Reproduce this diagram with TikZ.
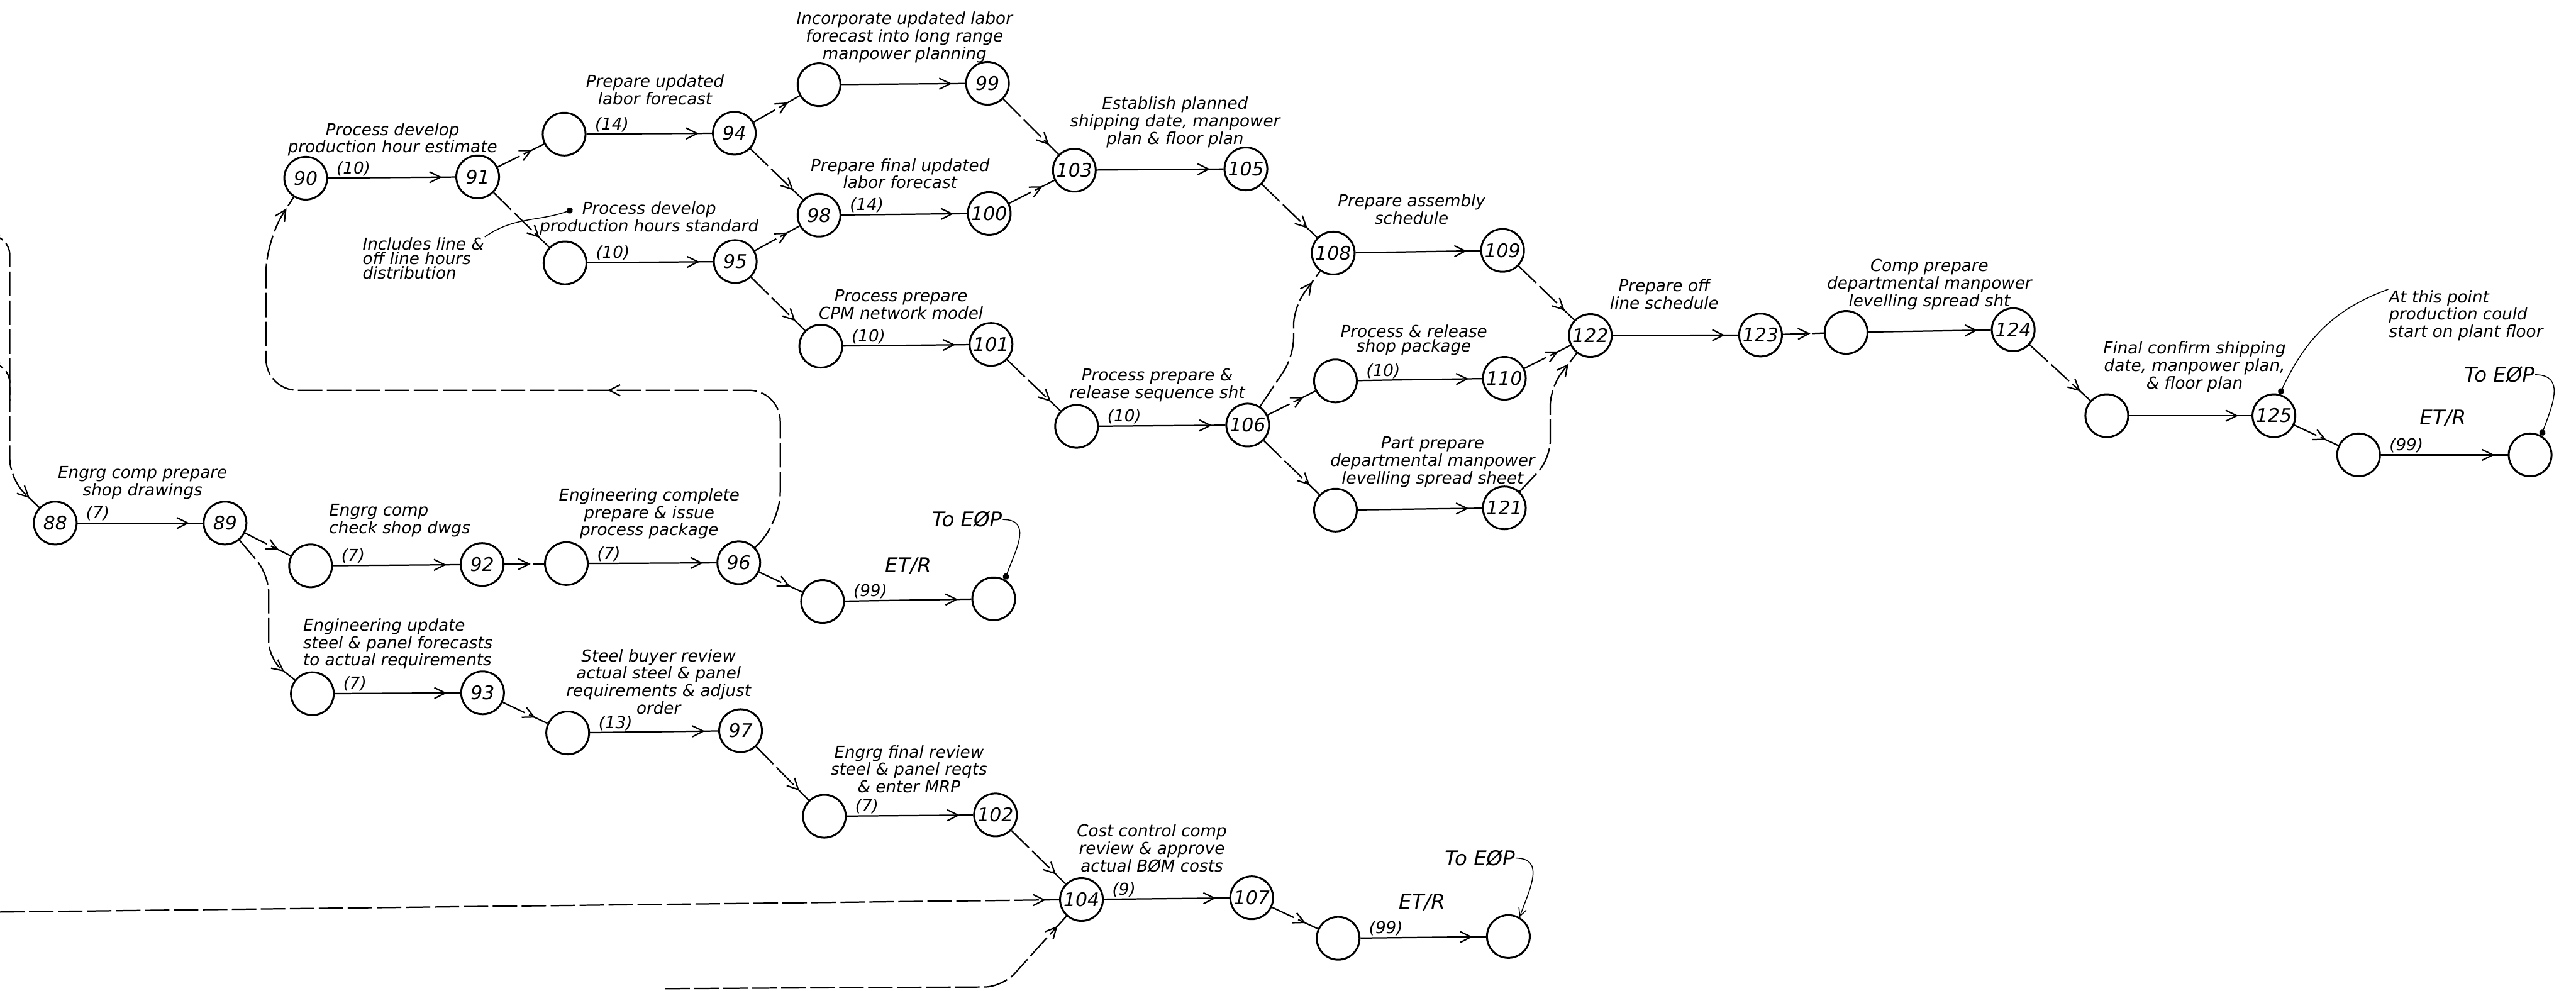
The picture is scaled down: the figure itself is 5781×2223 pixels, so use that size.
\documentclass[tikz,border=0pt]{standalone}
\usepackage{fontspec}
\newfontfamily\hand{DejaVu Sans}
\usetikzlibrary{calc, positioning, arrows.meta, decorations.markings}

\begin{document}
\begin{tikzpicture}[x=0.01cm, y=0.01cm, line width=0.9pt,
  ev/.style={circle, draw, line width=1.2pt, minimum size=0.96cm, inner sep=0pt,
    font=\hand\itshape\fontsize{12}{12}\selectfont},
  lbl/.style={align=center, inner sep=0pt, font=\hand\itshape\fontsize{10.5}{9.2}\selectfont},
  big/.style={inner sep=0pt, font=\hand\itshape\fontsize{13}{13}\selectfont},
  dur/.style={pos=0, anchor=south west, xshift=4pt, inner sep=1pt,
    font=\hand\itshape\fontsize{10.5}{10}\selectfont},
  arr/.style={postaction={decorate, decoration={markings,
    mark=at position #1 with {\arrow{Straight Barb[length=7pt, width=7pt]}}}}},
  arr/.default=-0.3cm,
  act/.style={arr},
  dl/.style={dash pattern=on 0.55cm off 0.1cm},
  dum/.style={dl, arr},
  lead/.style={line width=0.6pt, -{Circle[length=4pt]}}]

  \path[fill=white, use as bounding box] (0,0) rectangle (5781,-2223);

  \node[ev] (n90) at (686,-400) {90};
  \node[ev] (n91) at (1072,-397) {91};
  \node[ev] (a1) at (1266,-301) {};
  \node[ev] (n94) at (1648,-299) {94};
  \node[ev] (b1) at (1838,-190) {};
  \node[ev] (n99) at (2216,-187) {99};
  \node[ev] (c1) at (1268,-590) {};
  \node[ev] (n95) at (1650,-587) {95};
  \node[ev] (n98) at (1838,-483) {98};
  \node[ev] (n100) at (2220,-479) {100};
  \node[ev] (n103) at (2411,-382) {103};
  \node[ev] (n105) at (2796,-379) {105};
  \node[ev] (d1) at (1842,-777) {};
  \node[ev] (n101) at (2224,-773) {101};
  \node[ev] (e1) at (2416,-957) {};
  \node[ev] (n106) at (2800,-954) {106};
  \node[ev] (n108) at (2992,-568) {108};
  \node[ev] (n109) at (3372,-562) {109};
  \node[ev] (f1) at (2997,-855) {};
  \node[ev] (n110) at (3376,-849) {110};
  \node[ev] (g1) at (2997,-1145) {};
  \node[ev] (n121) at (3376,-1140) {121};
  \node[ev] (n122) at (3569,-753) {122};
  \node[ev] (n123) at (3951,-752) {123};
  \node[ev] (h1) at (4143,-746) {};
  \node[ev] (n124) at (4518,-740) {124};
  \node[ev] (i1) at (4728,-933) {};
  \node[ev] (n125) at (5103,-933) {125};
  \node[ev] (j1) at (5293,-1021) {};
  \node[ev] (k1) at (5678,-1021) {};

  \node[ev] (n88) at (124,-1174) {88};
  \node[ev] (n89) at (505,-1174) {89};
  \node[ev] (l1) at (697,-1270) {};
  \node[ev] (n92) at (1082,-1267) {92};
  \node[ev] (m1) at (1271,-1265) {};
  \node[ev] (n96) at (1658,-1263) {96};
  \node[ev] (p1) at (1846,-1350) {};
  \node[ev] (q1) at (2230,-1344) {};
  \node[ev] (n1) at (701,-1557) {};
  \node[ev] (n93) at (1083,-1555) {93};
  \node[ev] (o1) at (1274,-1645) {};
  \node[ev] (n97) at (1662,-1640) {97};
  \node[ev] (r1) at (1850,-1832) {};
  \node[ev] (n102) at (2234,-1829) {102};
  \node[ev] (n104) at (2427,-2019) {104};
  \node[ev] (n107) at (2809,-2015) {107};
  \node[ev] (s1) at (3003,-2106) {};
  \node[ev] (t1) at (3385,-2102) {};

  \node[lbl] (t90) at (881,-313) {Process develop\\production hour estimate};
  \node[lbl, align=left] (t91) at (950,-580) {Includes line \&\\off line hours\\distribution};
  \node[lbl] (ta1) at (1470,-201) {Prepare updated\\labor forecast};
  \node[lbl] (tb1) at (2030,-84) {Incorporate updated labor\\forecast into long range\\manpower planning};
  \node[lbl] (t98) at (2020,-390) {Prepare final updated\\labor forecast};
  \node[lbl] (tc1) at (1457,-490) {Process develop\\production hours standard};
  \node[lbl] (td1) at (2022,-683) {Process prepare\\CPM network model};
  \node[lbl] (t103) at (2637,-274) {Establish planned\\shipping date, manpower\\plan \& floor plan};
  \node[lbl] (te1) at (2597,-865) {Process prepare \&\\release sequence sht};
  \node[lbl] (t108) at (3168,-470) {Prepare assembly\\schedule};
  \node[lbl] (tf1) at (3173,-763) {Process \& release\\shop package};
  \node[lbl] (tg1) at (3215,-1037) {Part prepare\\departmental manpower\\levelling spread sheet};
  \node[lbl] (t122) at (3735,-660) {Prepare off\\line schedule};
  \node[lbl] (th1) at (4330,-639) {Comp prepare\\departmental manpower\\levelling spread sht};
  \node[lbl] (ti1) at (4925,-823) {Final confirm shipping\\date, manpower plan,\\\& floor plan};
  \node[lbl, align=left] (t125) at (5534,-708) {At this point\\production could\\start on plant floor};
  \node[lbl] (t88) at (320,-1084) {Engrg comp prepare\\shop drawings};
  \node[lbl, align=left] (tl1) at (897,-1168) {Engrg comp\\check shop dwgs};
  \node[lbl] (tm1) at (1457,-1153) {Engineering complete\\prepare \& issue\\process package};
  \node[lbl, align=left] (tn1) at (893,-1445) {Engineering update\\steel \& panel forecasts\\to actual requirements};
  \node[lbl] (to1) at (1478,-1530) {Steel buyer review\\actual steel \& panel\\requirements \& adjust\\order};
  \node[lbl] (tr1) at (2040,-1726) {Engrg final review\\steel \& panel reqts\\\& enter MRP};
  \node[lbl] (t104) at (2585,-1904) {Cost control comp\\review \& approve\\actual B\O M costs};

  \node[big] (eop1) at (2170,-1166) {To E\O P};
  \node[big] (etr1) at (2038,-1270) {ET/R};
  \node[big] (eop2) at (3321,-1926) {To E\O P};
  \node[big] (etr2) at (3191,-2026) {ET/R};
  \node[big] (eop3) at (5609,-841) {To E\O P};
  \node[big] (etr3) at (5482,-939) {ET/R};

  \coordinate (inA) at (0,-528);
  \coordinate (inB) at (0,-815);
  \coordinate (inC) at (0,-2047);
  \coordinate (inD) at (1493,-2219);
  \coordinate (dc1) at (1285,-470);

  \draw[act] (n90) -- node[dur] {(10)} (n91);
  \draw[dum] (n91) -- (a1);
  \draw[dum] (n91) -- (c1);
  \draw[act] (a1) -- node[dur] {(14)} (n94);
  \draw[act] (c1) -- node[dur] {(10)} (n95);
  \draw[dum] (n94) -- (b1);
  \draw[dum] (n94) -- (n98);
  \draw[dum] (n95) -- (n98);
  \draw[dum] (n95) -- (d1);
  \draw[act] (b1) -- (n99);
  \draw[act] (n98) -- node[dur] {(14)} (n100);
  \draw[act] (d1) -- node[dur] {(10)} (n101);
  \draw[dum] (n99) -- (n103);
  \draw[dum] (n100) -- (n103);
  \draw[act] (n103) -- (n105);
  \draw[dum] (n101) -- (e1);
  \draw[act] (e1) -- node[dur] {(10)} (n106);
  \draw[dum] (n105) -- (n108);
  \draw[dum, rounded corners=0.4cm] (n106) -- (2903,-800) -- (2903,-690) -- (n108);
  \draw[dum] (n106) -- (f1);
  \draw[dum] (n106) -- (g1);
  \draw[act] (n108) -- (n109);
  \draw[act] (f1) -- node[dur] {(10)} (n110);
  \draw[act] (g1) -- (n121);
  \draw[dum] (n109) -- (n122);
  \draw[dum] (n110) -- (n122);
  \draw[dum, rounded corners=0.4cm] (n121) -- (3479,-1030) -- (3479,-870) -- (n122);
  \draw[act] (n122) -- (n123);
  \draw[dum] (n123) -- (h1);
  \draw[act] (h1) -- (n124);
  \draw[dum] (n124) -- (i1);
  \draw[act] (i1) -- (n125);
  \draw[dum] (n125) -- (j1);
  \draw[act] (j1) -- node[dur] {(99)} (k1);

  \draw[act] (n88) -- node[dur] {(7)} (n89);
  \draw[dum] (n89) -- (l1);
  \draw[dum, rounded corners=0.4cm] (n89) -- (603,-1290) -- (603,-1480) -- (n1);
  \draw[act] (l1) -- node[dur] {(7)} (n92);
  \draw[dum] (n92) -- (m1);
  \draw[act] (m1) -- node[dur] {(7)} (n96);
  \draw[dum] (n96) -- (p1);
  \draw[act] (p1) -- node[dur] {(99)} (q1);
  \draw[act] (n1) -- node[dur] {(7)} (n93);
  \draw[dum] (n93) -- (o1);
  \draw[act] (o1) -- node[dur] {(13)} (n97);
  \draw[dum] (n97) -- (r1);
  \draw[act] (r1) -- node[dur] {(7)} (n102);
  \draw[dum] (n102) -- (n104);
  \draw[act] (n104) -- node[dur] {(9)} (n107);
  \draw[dum] (n107) -- (s1);
  \draw[act] (s1) -- node[dur] {(99)} (t1);

  \draw[dl, arr=0.38, arr, rounded corners=0.7cm] (n96) -- (1751,-1175) -- (1751,-876)
    -- (597,-876) -- (597,-540) -- (n90);
  \draw[dum, rounded corners=0.45cm] (inA) -- (22,-528) -- (22,-1075) -- (n88);
  \draw[dl, rounded corners=0.45cm] (inB) -- (22,-815) -- (22,-900);
  \draw[dum] (inC) -- (n104);
  \draw[dum, rounded corners=0.4cm] (inD) -- (2250,-2215) -- (n104);

  \draw[lead] (t91.north east) to[out=35, in=200] (dc1);
  \draw[lead] (t125.north west) to[out=200, in=65] (n125.75);
  \draw[lead] (eop1.east) to[out=0, in=70, looseness=1.3] (q1.60);
  \draw[lead, -{Straight Barb[length=5pt, width=5pt]}] (eop2.east) to[out=0, in=70, looseness=1.3] (t1.60);
  \draw[lead] (eop3.east) to[out=0, in=70, looseness=1.3] (k1.60);

\end{tikzpicture}
\end{document}
